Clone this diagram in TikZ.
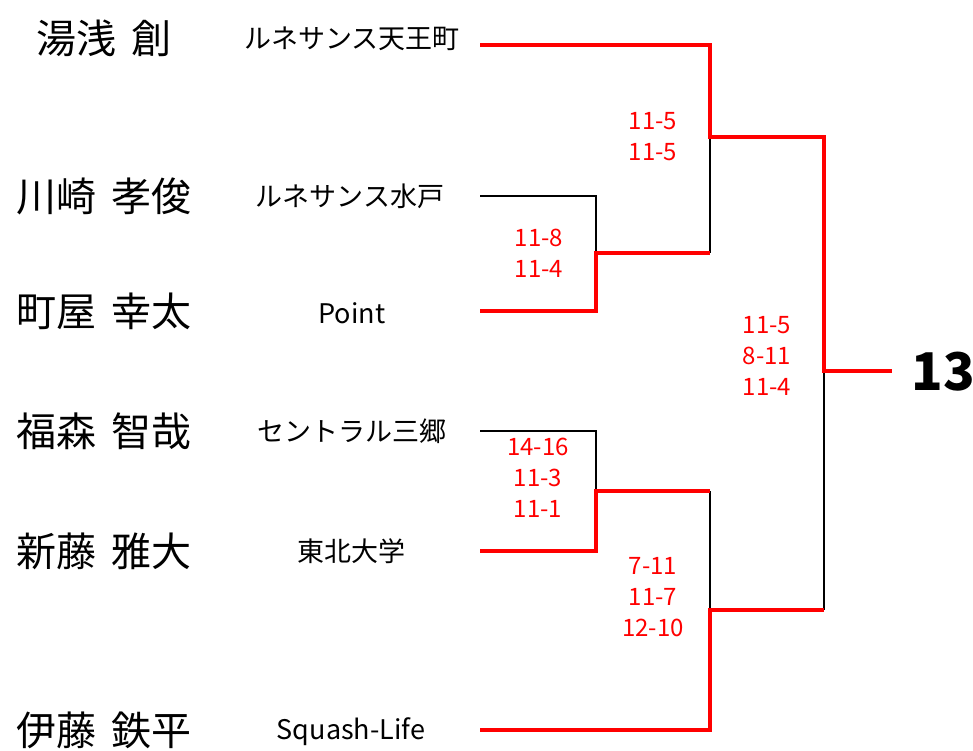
\documentclass[tikz,border=0pt]{standalone}
\usepackage{fontspec}
\setmainfont{Noto Sans CJK JP}
\usetikzlibrary{positioning}
\definecolor{winred}{RGB}{255,0,0}
\tikzset{
player/.style={ % player names
font={\fontsize{40}{40}\selectfont\spaceskip=0.4em\relax},
inner sep=0pt},
club/.style={ % club names
font={\fontsize{27}{27}\selectfont},
inner sep=0pt},
score/.style={ % game scores
font={\fontsize{24}{31}\selectfont},
text=winred, align=center, inner sep=0pt},
lose/.style={draw=black, line width=2pt},
win/.style={draw=winred, line width=4pt}}

\begin{document}
\begin{tikzpicture}[x=1pt,y=-1pt]
\useasboundingbox (0,0) rectangle (973,750);
% players
\node[player] (n1) at (104,38) {湯浅 創};
\node[player] (n2) at (104,196) {川崎 孝俊};
\node[player] (n3) at (104,311) {町屋 幸太};
\node[player] (n4) at (104,431) {福森 智哉};
\node[player] (n5) at (104,551) {新藤 雅大};
\node[player] (n6) at (104,730) {伊藤 鉄平};
% clubs
\node[club] (c1) at (352,39) {ルネサンス天王町};
\node[club] (c2) at (350,196) {ルネサンス水戸};
\node[club] (c3) at (352,313) {Point};
\node[club] (c4) at (352,431) {セントラル三郷};
\node[club] (c5) at (351,551) {東北大学};
\node[club] (c6) at (351,732) {Squash-Life};
% bracket points
\coordinate (p1) at (480,45);
\coordinate (p2) at (480,196);
\coordinate (p3) at (480,311);
\coordinate (p4) at (480,431);
\coordinate (p5) at (480,551);
\coordinate (p6) at (480,730);
\coordinate (m23) at (596,253);
\coordinate (m45) at (596,491);
\coordinate (s1) at (710,137);
\coordinate (s2) at (710,610);
\coordinate (f) at (824,371);
\coordinate (w) at (892,371);
% lost
\draw[lose] (p2) -| (m23);
\draw[lose] (m23 -| s1) -- (s1);
\draw[lose] (p4) -| (m45);
\draw[lose] (m45 -| s2) -- (s2);
\draw[lose] (s2 -| f) -- (f);
% won
\draw[win] (p1) -| (s1) -| (f) -- (w);
\draw[win] (p3) -| (m23) -- (m23 -| s1);
\draw[win] (p5) -| (m45) -- (m45 -| s2);
\draw[win] (p6) -| (s2) -- (s2 -| f);
% scores
\node[score] (g1) at (653,137) {11-5\\11-5};
\node[score] (g2) at (539,253) {11-8\\11-4};
\node[score] (g3) at (767,356) {11-5\\8-11\\11-4};
\node[score] (g4) at (538,478) {14-16\\11-3\\11-1};
\node[score] (g5) at (653,597) {7-11\\11-7\\12-10};
\node[font={\fontsize{52}{52}\selectfont\bfseries}, inner sep=0pt] (champ) at (943,372) {13};
\end{tikzpicture}
\end{document}
